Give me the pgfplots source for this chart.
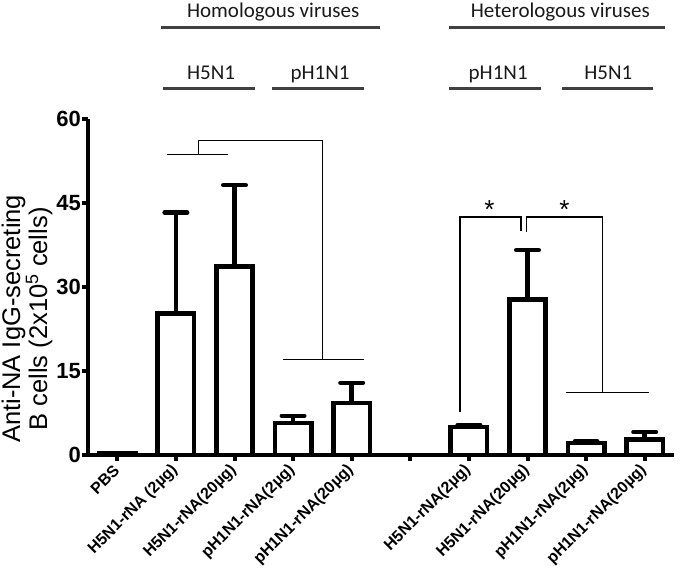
\documentclass[border=0pt]{standalone}
\usepackage{fontspec}
\setmainfont{Liberation Sans}
\newfontfamily\calibri{Carlito}
\usepackage{pgfplots}
\usepackage{pgfplotstable}
\pgfplotsset{compat=1.18}
\definecolor{grpline}{HTML}{404040}
\pgfplotstableread{
x y e
0 0.3 0.1
1 25.3 18.0
2 33.7 14.5
3 5.7 1.3
4 9.3 3.6
6 5.0 0.4
7 27.8 8.8
8 2.1 0.3
9 2.8 1.3
}\datatable
\begin{document}
\begin{tikzpicture}
\useasboundingbox (-88pt,-113pt) rectangle (592pt,455pt);
\begin{axis}[
 scale only axis, width=586pt, height=336pt,
 at={(0,0)}, anchor=south west,
 xmin=-0.5, xmax=9.5, ymin=0, ymax=60,
 axis lines=left, axis line style={-, line width=4.5pt},
 clip=false,
 xtick={0,...,9},
 xticklabels={PBS, H5N1-rNA (2µg), H5N1-rNA(20µg), pH1N1-rNA(2µg), pH1N1-rNA(20µg), {}, H5N1-rNA(2µg), H5N1-rNA(20µg), pH1N1-rNA(2µg), pH1N1-rNA(20µg)},
 ytick={0,15,30,45,60},
 tick align=outside, major tick length=6pt,
 tick style={line width=4pt, black},
 /pgf/number format/assume math mode=true,
 yticklabel style={font=\bfseries\fontsize{22}{26}\selectfont, inner sep=1pt},
 xticklabel style={font=\bfseries\fontsize{16}{19}\selectfont, rotate=45, anchor=east, inner sep=1pt},
 xticklabel shift=6pt,
 ylabel={Anti-NA IgG-secreting\\B cells (2x10\textsuperscript{5} cells)},
 ylabel style={font=\fontsize{25.5}{27}\selectfont, align=center, rotate=0, at={(axis description cs:-0.104,0.405)}, anchor=center},
]
\addplot[ybar, bar width=0.62, fill=white, draw=black, line width=4.5pt,
 error bars/.cd, y dir=plus, y explicit,
 error bar style={line width=4.5pt, black},
 error mark options={rotate=90, black, mark size=11.25pt, line width=4.5pt, line cap=round}]
 table[x=x, y=y, y error=e] {\datatable};
% significance brackets
\draw[line width=1.3pt] (axis cs:0.85,53.6) -- (axis cs:1.89,53.6);
\draw[line width=1.3pt] (axis cs:1.38,53.6) -- (axis cs:1.38,56.1) -- (axis cs:3.5,56.1) -- (axis cs:3.5,17.0);
\draw[line width=1.3pt] (axis cs:2.83,17.0) -- (axis cs:4.21,17.0);
\draw[line width=1.3pt] (axis cs:5.85,7.7) -- (axis cs:5.85,42.5) -- (axis cs:6.89,42.5) -- (axis cs:6.89,40.0);
\draw[line width=1.3pt] (axis cs:6.98,39.8) -- (axis cs:6.98,42.5) -- (axis cs:8.28,42.5) -- (axis cs:8.28,11.1);
\draw[line width=1.3pt] (axis cs:7.65,11.1) -- (axis cs:9.08,11.1);
\node[font=\fontsize{26}{26}\selectfont, inner sep=0pt] at (axis cs:6.35,43.8) {*};
\node[font=\fontsize{26}{26}\selectfont, inner sep=0pt] at (axis cs:7.63,43.8) {*};
% group headers
\draw[line width=3pt, grpline] (axis cs:0.75,76.4) -- (axis cs:4.49,76.4);
\draw[line width=3pt, grpline] (axis cs:0.785,65.5) -- (axis cs:2.355,65.5);
\draw[line width=3pt, grpline] (axis cs:2.645,65.5) -- (axis cs:4.215,65.5);
\draw[line width=3pt, grpline] (axis cs:5.665,76.4) -- (axis cs:9.35,76.4);
\draw[line width=3pt, grpline] (axis cs:5.665,65.5) -- (axis cs:7.235,65.5);
\draw[line width=3pt, grpline] (axis cs:7.59,65.5) -- (axis cs:9.15,65.5);
\node[anchor=base, inner sep=0pt, font=\calibri\fontsize{21}{25}\selectfont, text=black!90] at (axis cs:2.66,78.2) {Homologous viruses};
\node[anchor=base, inner sep=0pt, font=\calibri\fontsize{21}{25}\selectfont, text=black!90] at (axis cs:7.56,78.2) {Heterologous viruses};
\node[anchor=base, inner sep=0pt, font=\calibri\fontsize{21}{25}\selectfont, text=black!90] at (axis cs:1.60,67.1) {H5N1};
\node[anchor=base, inner sep=0pt, font=\calibri\fontsize{21}{25}\selectfont, text=black!90] at (axis cs:3.46,67.1) {pH1N1};
\node[anchor=base, inner sep=0pt, font=\calibri\fontsize{21}{25}\selectfont, text=black!90] at (axis cs:6.50,67.1) {pH1N1};
\node[anchor=base, inner sep=0pt, font=\calibri\fontsize{21}{25}\selectfont, text=black!90] at (axis cs:8.38,67.1) {H5N1};
\end{axis}
\end{tikzpicture}
\end{document}
